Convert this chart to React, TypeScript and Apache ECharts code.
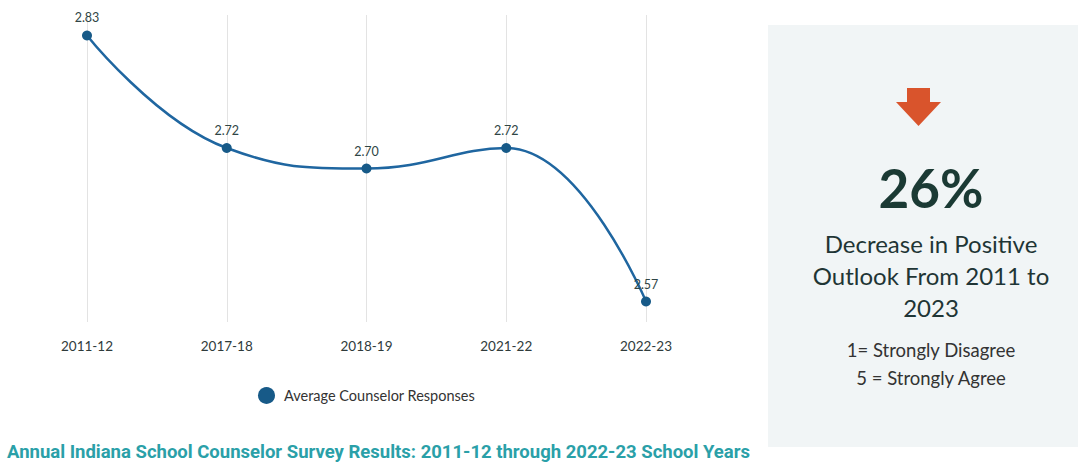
import React, { useEffect, useRef } from "react";
import * as echarts from "echarts";

const categories = ["2011-12", "2017-18", "2018-19", "2021-22", "2022-23"];
const values = [2.83, 2.72, 2.7, 2.72, 2.57];
const seriesName = "Average Counselor Responses";
const footerTitle =
  "Annual Indiana School Counselor Survey Results: 2011-12 through 2022-23 School Years";
const statValue = "26%";
const statLines = ["Decrease in Positive", "Outlook From 2011 to", "2023"];
const scaleLines = ["1= Strongly Disagree", "5 = Strongly Agree"];

export default function App() {
  const ref = useRef<HTMLDivElement>(null);
  useEffect(() => {
    document.body.style.margin = "0";
    const chart = echarts.init(ref.current!, null, { renderer: "svg" });
    const font = "Lato, 'Noto Sans', sans-serif";
    chart.setOption({
      animation: false,
      textStyle: { fontFamily: font },
      grid: { left: 87, right: 432, top: 15, bottom: 141, containLabel: false },
      legend: {
        data: [{ name: seriesName, icon: "circle" }],
        left: 258,
        top: 387,
        padding: 0,
        itemWidth: 17,
        itemHeight: 17,
        itemGap: 10,
        textStyle: { fontFamily: font, fontSize: 14.5, color: "#333", padding: [0, 0, 0, 4] },
      },
      xAxis: {
        type: "category",
        data: categories,
        boundaryGap: false,
        axisLine: { show: false },
        axisTick: { show: false },
        axisLabel: { margin: 17, fontSize: 13.5, color: "#2f3b3b", fontFamily: font },
        splitLine: { show: true, lineStyle: { color: "#e3e3e3", width: 1 } },
      },
      yAxis: {
        type: "value",
        min: 2.55,
        max: 2.85,
        show: false,
        splitLine: { show: false },
      },
      series: [
        {
          name: seriesName,
          type: "line",
          data: values,
          smooth: 0.45,
          symbol: "circle",
          symbolSize: 10,
          itemStyle: { color: "#175a88" },
          lineStyle: { color: "#1f66a0", width: 2.5 },
          label: {
            show: true,
            position: "top",
            distance: 6,
            formatter: (p: any) => p.value.toFixed(2),
            fontSize: 12.5,
            color: "#2f4545",
            fontFamily: font,
          },
        },
      ],
      graphic: [
        {
          type: "rect",
          shape: { x: 768, y: 25, width: 310, height: 422 },
          style: { fill: "#f1f5f6" },
          silent: true,
        },
        {
          type: "polygon",
          shape: {
            points: [
              [907, 88],
              [930, 88],
              [930, 102],
              [941, 102],
              [918.5, 126],
              [896, 102],
              [907, 102],
            ],
          },
          style: { fill: "#d9542c" },
        },
        {
          type: "text",
          x: 931,
          y: 187,
          style: {
            text: statValue,
            fontFamily: font,
            fontSize: 53,
            fontWeight: "bold",
            fill: "#1b3a34",
            align: "center",
            verticalAlign: "middle",
          },
        },
        ...statLines.map((t, i) => ({
          type: "text",
          x: 931,
          y: 243 + i * 32,
          style: {
            text: t,
            fontFamily: font,
            fontSize: 24,
            fill: "#1f3535",
            align: "center",
            verticalAlign: "middle",
          },
        })),
        ...scaleLines.map((t, i) => ({
          type: "text",
          x: 931,
          y: 350 + i * 28,
          style: {
            text: t,
            fontFamily: font,
            fontSize: 18.5,
            fill: "#333",
            align: "center",
            verticalAlign: "middle",
          },
        })),
        {
          type: "text",
          x: 7,
          y: 452,
          style: {
            text: footerTitle,
            fontFamily: "Roboto, Lato, sans-serif",
            fontSize: 18.5,
            fontWeight: "bold",
            fill: "#2aa0a8",
            align: "left",
            verticalAlign: "middle",
          },
        },
      ],
    });
    return () => chart.dispose();
  }, []);
  return <div ref={ref} style={{ width: 1078, height: 463 }} />;
}
